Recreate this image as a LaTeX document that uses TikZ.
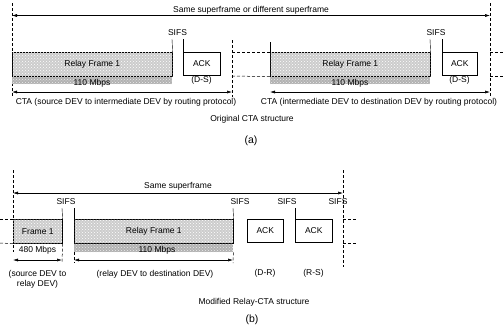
\documentclass[tikz,border=0pt]{standalone}
\usepackage{fontspec}
\setmainfont{Liberation Sans}
\usetikzlibrary{arrows.meta,positioning,patterns}

\begin{document}
\begin{tikzpicture}[x=1pt, y=-1pt,
    font=\fontsize{8.5}{10}\selectfont,
    frm/.style={rectangle, draw, line width=0.6pt, fill=gray!40, inner sep=0pt,
                postaction={pattern=crosshatch dots, pattern color=white},
                anchor=north west, minimum height=24pt},
    band/.style={rectangle, fill=gray!60, inner sep=0pt, anchor=north west,
                 postaction={pattern=crosshatch dots, pattern color=white!85!gray}},
    ack/.style={rectangle, draw, line width=0.6pt, inner sep=0pt, anchor=north west,
                minimum height=23pt},
    vdash/.style={dash pattern=on 3pt off 2pt, line width=0.5pt},
    tick/.style={line width=0.4pt},
    span/.style={{Latex[length=5pt,width=3pt]}-{Latex[length=5pt,width=3pt]}, line width=0.5pt},
    lbl/.style={inner sep=0pt},
    captag/.style={inner sep=0pt, font=\fontsize{10.5}{12}\selectfont}
  ]
  \useasboundingbox (0,0) rectangle (504,330);

  % (a) original CTA structure
  \coordinate (aL0) at (12,3);    \coordinate (aL1) at (12,97);
  \coordinate (aM0) at (232,40);  \coordinate (aM1) at (232,97);
  \coordinate (aR0) at (490,3);   \coordinate (aR1) at (490,97);
  \draw[vdash] (aL0) -- (aL1);
  \draw[vdash] (aM0) -- (aM1);
  \draw[vdash] (aR0) -- (aR1);
  \coordinate (aS0) at (12,15.5); \coordinate (aS1) at (490,15.5);
  \draw[span] (aS0) -- (aS1);
  \node[lbl] (aSup) at (251,10) {Same superframe or different superframe};

  \node[band, minimum width=160pt, minimum height=8pt] (bandA1) at (12,76) {};
  \node[frm, minimum width=160pt] (rfA1) at (12,52) {Relay Frame 1};
  \node[lbl] (rateA1) at (92,83) {110 Mbps};
  \node[ack, minimum width=37pt] (ackA1) at (183,52) {ACK};
  \node[lbl] (dsA1) at (201.5,80) {(D-S)};
  \node[lbl] (sifsA1) at (177.5,33) {SIFS};
  \coordinate (tA1) at (172,39); \coordinate (tA2) at (183,39);
  \draw[tick] (tA1) -- (rfA1.north east);
  \draw[tick] (tA2) -- (ackA1.north west);
  \coordinate (cA0) at (12,92); \coordinate (cA1) at (232,92);
  \draw[span] (cA0) -- (cA1);
  \node[lbl] (ctaA1) at (126,102) {CTA (source DEV to intermediate DEV by routing protocol)};

  \coordinate (gA0) at (232,52); \coordinate (gA1) at (232,76);
  \node[band, minimum width=160pt, minimum height=8pt] (bandA2) at (270,76) {};
  \node[frm, minimum width=160pt] (rfA2) at (270,52) {Relay Frame 1};
  \draw[vdash] (gA0) -- (rfA2.north west);
  \draw[vdash] (gA1) -- (rfA2.south west);
  \node[lbl] (rateA2) at (350,83) {110 Mbps};
  \node[ack, minimum width=35pt] (ackA2) at (442,52) {ACK};
  \node[lbl] (dsA2) at (459.5,80) {(D-S)};
  \node[lbl] (sifsA2) at (436,33) {SIFS};
  \coordinate (tA3) at (270,42); \coordinate (tA4) at (430,39); \coordinate (tA5) at (442,39);
  \draw[tick] (tA3) -- (rfA2.north west);
  \draw[tick] (tA4) -- (rfA2.north east);
  \draw[tick] (tA5) -- (ackA2.north west);
  \coordinate (cA2) at (270,92); \coordinate (cA3) at (490,92);
  \draw[span] (cA2) -- (cA3);
  \node[lbl] (ctaA2) at (379,102) {CTA (intermediate DEV to destination DEV by routing protocol)};
  \coordinate (eA0) at (504,52); \coordinate (eA1) at (504,76);
  \coordinate (fA0) at (490,52); \coordinate (fA1) at (490,76);
  \draw[vdash] (fA0) -- (eA0);
  \draw[vdash] (fA1) -- (eA1);

  \node[lbl] (capA) at (252,119) {Original CTA structure};
  \node[captag] (tagA) at (251,141) {(a)};

  % (b) modified relay-CTA structure
  \coordinate (bL0) at (13,170);  \coordinate (bL1) at (13,252);
  \coordinate (bR0) at (343,170); \coordinate (bR1) at (343,267);
  \draw[vdash] (bL0) -- (bL1);
  \draw[vdash] (bR0) -- (bR1);
  \coordinate (bS0) at (13,193); \coordinate (bS1) at (343,193);
  \draw[span] (bS0) -- (bS1);
  \node[lbl] (bSup) at (178,186) {Same superframe};
  \coordinate (hB0) at (0,219); \coordinate (hB1) at (0,243);

  \node[frm, minimum width=49pt] (fB1) at (13,219) {Frame 1};
  \draw[vdash] (hB0) -- (fB1.north west);
  \draw[vdash] (hB1) -- (fB1.south west);
  \node[lbl] (rateB1) at (37.5,250) {480 Mbps};
  \node[lbl, align=center] (srcB1) at (37.5,279.5) {(source DEV to\\relay DEV)};
  \coordinate (tB1) at (62,208);
  \coordinate (dB1) at (62,263);
  \draw[tick] (tB1) -- (fB1.north east);
  \draw[vdash] (fB1.south east) -- (dB1);
  \coordinate (cB0) at (13,260); \coordinate (cB1) at (62,260);
  \draw[span] (cB0) -- (cB1);
  \node[lbl] (sifsB1) at (66,202) {SIFS};

  \node[band, minimum width=159pt, minimum height=9pt] (bandB2) at (74,243) {};
  \node[frm, minimum width=159pt] (rfB2) at (74,219) {Relay Frame 1};
  \node[lbl] (rateB2) at (157,250) {110 Mbps};
  \node[lbl] (dstB2) at (155,274) {(relay DEV to destination DEV)};
  \coordinate (tB2) at (74,208); \coordinate (dB2) at (74,263);
  \coordinate (tB3) at (233,208); \coordinate (dB3) at (233,263);
  \draw[tick] (tB2) -- (rfB2.north west);
  \draw[vdash] (bandB2.south west) -- (dB2);
  \draw[tick] (tB3) -- (rfB2.north east);
  \draw[vdash] (bandB2.south east) -- (dB3);
  \coordinate (cB2) at (74,260); \coordinate (cB3) at (233,260);
  \draw[span] (cB2) -- (cB3);
  \node[lbl] (sifsB2) at (240,202) {SIFS};

  \node[ack, minimum width=36pt] (ackB1) at (247,219) {ACK};
  \node[lbl] (drB1) at (265,273) {(D-R)};
  \node[lbl] (sifsB3) at (287,202) {SIFS};
  \node[ack, minimum width=37pt] (ackB2) at (295,219) {ACK};
  \node[lbl] (rsB2) at (313.5,273) {(R-S)};
  \coordinate (tB4) at (295,208);
  \draw[tick] (tB4) -- (ackB2.north west);
  \node[lbl] (sifsB4) at (338,202) {SIFS};
  \coordinate (gB0) at (343,219); \coordinate (gB1) at (357,219);
  \coordinate (gB2) at (343,243); \coordinate (gB3) at (357,243);
  \draw[vdash] (gB0) -- (gB1);
  \draw[vdash] (gB2) -- (gB3);

  \node[lbl] (capB) at (254,302) {Modified Relay-CTA structure};
  \node[captag] (tagB) at (252,320) {(b)};
\end{tikzpicture}
\end{document}
